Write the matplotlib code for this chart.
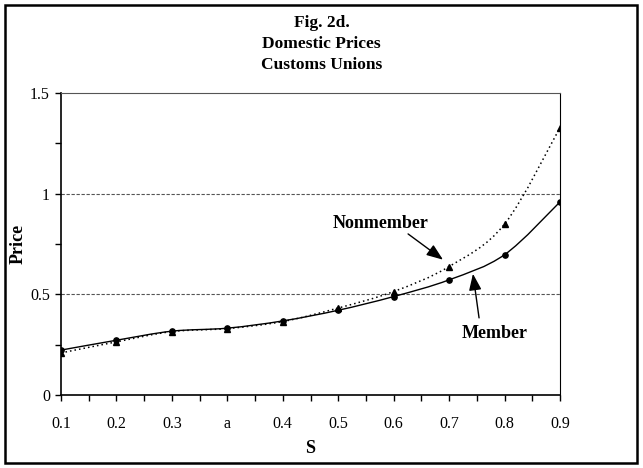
import matplotlib
matplotlib.use('Agg')
import matplotlib.pyplot as plt
from matplotlib.path import Path
from matplotlib.patches import PathPatch, Rectangle
import numpy as np

categories = ['0.1', '0.2', '0.3', 'a', '0.4', '0.5', '0.6', '0.7', '0.8', '0.9']
member = [0.223, 0.272, 0.317, 0.332, 0.368, 0.421, 0.489, 0.572, 0.697, 0.959]
nonmember = [0.209, 0.264, 0.315, 0.330, 0.365, 0.432, 0.514, 0.638, 0.849, 1.328]

plt.rcParams['font.family'] = ['Liberation Serif', 'DejaVu Serif']


def smooth_path(xs, ys):
    """Excel-style smoothed line: cubic Bezier segments through the points"""
    pts = np.column_stack([xs, ys]).astype(float)
    n = len(pts)
    verts = [pts[0]]
    codes = [Path.MOVETO]
    for i in range(n - 1):
        p0 = pts[i - 1] if i > 0 else pts[i]
        p1 = pts[i]
        p2 = pts[i + 1]
        p3 = pts[i + 2] if i + 2 < n else pts[i + 1]
        c1 = p1 + (p2 - p0) / 6.0
        c2 = p2 - (p3 - p1) / 6.0
        verts += [c1, c2, p2]
        codes += [Path.CURVE4] * 3
    return Path(verts, codes)


fig = plt.figure(figsize=(6.43, 4.68), dpi=100)
ax = fig.add_axes([61 / 643, 1 - 395 / 468, (560 - 61) / 643, (395 - 93) / 468])

x = np.arange(len(categories))

ax.add_patch(PathPatch(smooth_path(x, nonmember), fill=False, color='black',
                       lw=1.1, linestyle=(0, (1, 2)), transform=ax.transData))
ax.add_patch(PathPatch(smooth_path(x, member), fill=False, color='black',
                       lw=1.0, transform=ax.transData))
ax.plot(x, nonmember, linestyle='none', marker='^', color='black', markersize=4.5)
ax.plot(x, member, linestyle='none', marker='o', color='black', markersize=3.8)

ax.set_xlim(0, len(categories) - 1)
ax.set_ylim(0, 1.5)
ax.set_xticks(x)
ax.set_xticklabels(categories)
ax.set_xticks(np.arange(0.5, len(categories) - 1, 1.0), minor=True)
ax.set_yticks([0, 0.5, 1, 1.5])
ax.set_yticklabels(['0', '0.5', '1', '1.5'])
ax.set_yticks([0.25, 0.75, 1.25], minor=True)
ax.tick_params(axis='both', which='both', direction='out', length=4, width=1,
               labelsize=11.5, colors='black')
ax.tick_params(axis='x', pad=11)
ax.tick_params(axis='y', pad=4)

for yv in [0.5, 1.0]:
    ax.axhline(yv, color='#555555', lw=0.8, linestyle=(0, (3, 1.5)), zorder=0)

ax.spines['left'].set_linewidth(1.2)
ax.spines['bottom'].set_linewidth(1.2)
ax.spines['top'].set_linewidth(0.8)
ax.spines['top'].set_color('#555555')
ax.spines['right'].set_linewidth(0.8)

ax.set_xlabel('S', fontsize=13, fontweight='bold', labelpad=6)
ax.set_ylabel('Price', fontsize=13, fontweight='bold')
ax.yaxis.set_label_coords(-0.068, 0.5)

fig.text(0.5, 1 - 23 / 468, 'Fig. 2d.', ha='center', va='center', fontsize=12.5, fontweight='bold')
fig.text(0.5, 1 - 44 / 468, 'Domestic Prices', ha='center', va='center', fontsize=12.5, fontweight='bold')
fig.text(0.5, 1 - 65 / 468, 'Customs Unions', ha='center', va='center', fontsize=12.5, fontweight='bold')

arrow = dict(arrowstyle='-|>,head_length=1.0,head_width=0.38', color='black', lw=1.0,
             shrinkA=0, shrinkB=0)
ax.text(6.62, 0.85, 'Nonmember', fontsize=13, fontweight='bold', ha='right', va='center')
ax.annotate('', xy=(6.89, 0.672), xytext=(6.26, 0.80), arrowprops=arrow)
ax.text(7.23, 0.306, 'Member', fontsize=13, fontweight='bold', ha='left', va='center')
ax.annotate('', xy=(7.43, 0.602), xytext=(7.54, 0.383), arrowprops=arrow)

fig.patches.append(Rectangle((5 / 643, 5 / 468), 632 / 643, 458 / 468, fill=False,
                             edgecolor='black', lw=1.8, transform=fig.transFigure))

plt.savefig('out.png', dpi=100)
plt.close()
